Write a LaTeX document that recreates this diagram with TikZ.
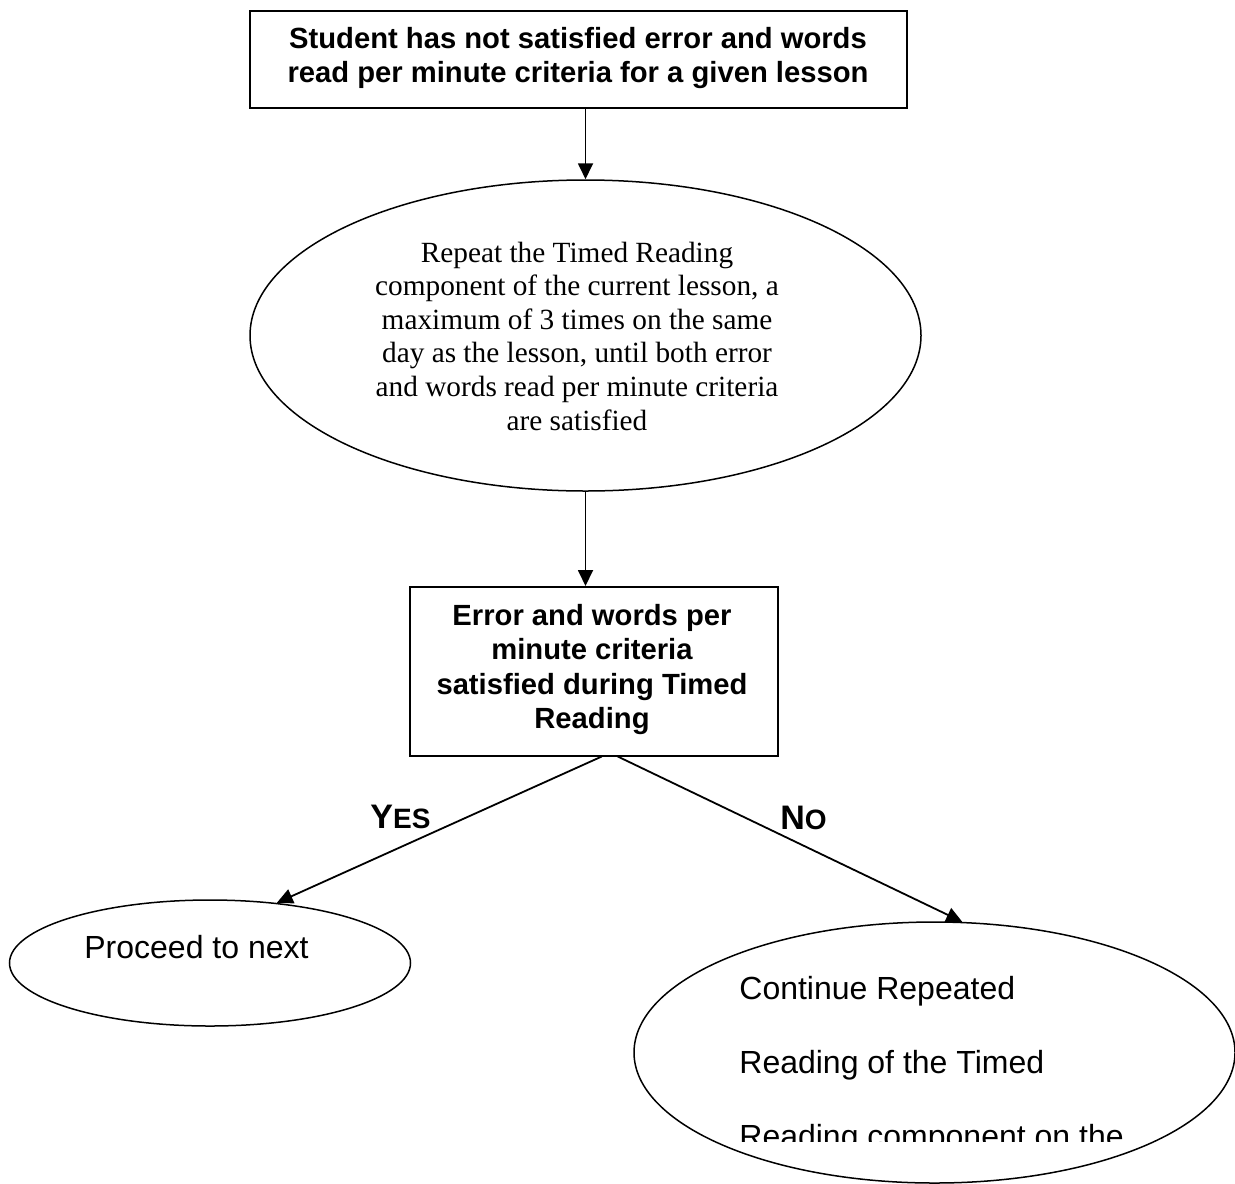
\documentclass[tikz,border=0pt]{standalone}
\usepackage{fontspec}
\setmainfont{Liberation Serif}
\newfontfamily\arialf{Liberation Sans}
\usetikzlibrary{arrows.meta,shapes.geometric}
\begin{document}
\begin{tikzpicture}[x=0.5pt,y=-0.5pt,
  boxst/.style={draw,line width=1pt,rectangle,inner sep=0pt},
  ellst/.style={draw,line width=0.75pt,ellipse,inner sep=0pt},
  arr/.style={line width=0.9pt,-{Triangle[width=7.5pt,length=8pt]}},
  boldtxt/.style={font=\arialf\bfseries\fontsize{14.6pt}{17pt}\selectfont,inner sep=0pt,anchor=base},
  sertxt/.style={font=\fontsize{14.65pt}{17pt}\selectfont,inner sep=0pt,anchor=base},
  regtxt/.style={font=\arialf\fontsize{16pt}{19pt}\selectfont,inner sep=0pt,anchor=base west},
  lbl/.style={font=\arialf\bfseries,inner sep=0pt,anchor=base west}]
\useasboundingbox (0,0) rectangle (1235,1183);
\fill[white] (0,0) rectangle (1235,1183);

% top box
\node[boxst,minimum width=328.75pt,minimum height=48.7pt] (top) at (578.25,59.3) {};
\node[boldtxt] (t1) at (578,48) {Student has not satisfied error and words};
\node[boldtxt] (t2) at (578,82) {read per minute criteria for a given lesson};

% big ellipse
\node[ellst,minimum width=335.5pt,minimum height=155.5pt] (big) at (585.5,335.5) {};
\node[sertxt] (s1) at (577,262) {Repeat the Timed Reading};
\node[sertxt] (s2) at (577,295.6) {component of the current lesson, a};
\node[sertxt] (s3) at (577,329.2) {maximum of 3 times on the same};
\node[sertxt] (s4) at (577,362.8) {day as the lesson, until both error};
\node[sertxt] (s5) at (577,396.4) {and words read per minute criteria};
\node[sertxt] (s6) at (577,430) {are satisfied};

% middle box
\node[boxst,minimum width=184.25pt,minimum height=84.25pt] (mid) at (593.75,671.25) {};
\node[boldtxt] (m1) at (592,625) {Error and words per};
\node[boldtxt] (m2) at (592,659) {minute criteria};
\node[boldtxt] (m3) at (592,694) {satisfied during Timed};
\node[boldtxt] (m4) at (592,728) {Reading};

% left ellipse
\node[ellst,minimum width=200.5pt,minimum height=63pt] (lft) at (210,963) {};
\node[regtxt] (lt) at (84,958) {Proceed to next};

% right ellipse
\node[ellst,minimum width=300.5pt,minimum height=130.5pt] (rgt) at (934.5,1052.5) {};
\begin{scope}
  \clip (700,940) rectangle (1200,1141);
  \node[regtxt] (r1) at (739,999) {Continue Repeated};
  \node[regtxt] (r2) at (739,1073) {Reading of the Timed};
  \node[regtxt] (r3) at (739,1147) {Reading component on the};
\end{scope}

% connectors
\draw[arr] (top.south -| big.north) -- (big.north);
\draw[arr] (big.south) -- (big.south |- mid.north);
\draw[arr] ([xshift=4pt]mid.south) -- (lft.42);
\draw[arr] ([xshift=12pt]mid.south) -- (rgt.78);

% labels
\node[lbl] (yes) at (370,828) {{\fontsize{17pt}{19pt}\selectfont Y}{\fontsize{14pt}{16pt}\selectfont ES}};
\node[lbl] (no) at (780,829) {{\fontsize{17pt}{19pt}\selectfont N}{\fontsize{14pt}{16pt}\selectfont O}};
\end{tikzpicture}
\end{document}
